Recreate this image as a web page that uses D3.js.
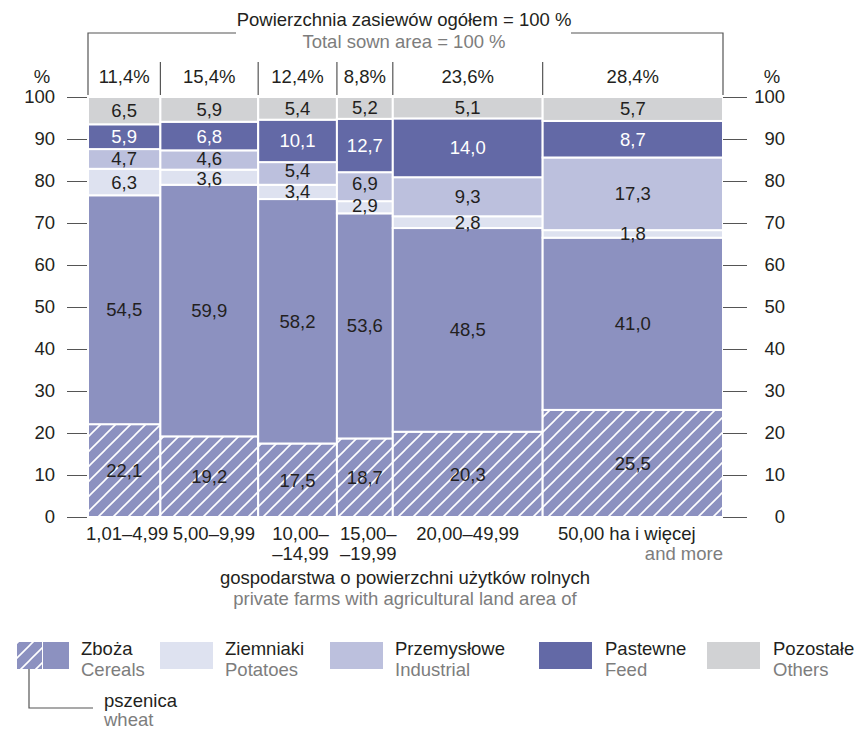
<!DOCTYPE html>
<html><head><meta charset="utf-8">
<script src="https://cdn.jsdelivr.net/npm/d3@7"></script>
<style>
html,body{margin:0;padding:0;background:#fff;}
svg text{font-family:"Liberation Sans",Arial,Helvetica,sans-serif;}
</style></head>
<body>
<svg id="chart" width="859" height="730"></svg>
<script>
// ---- data ----
const categories = [["1,01–4,99"],["5,00–9,99"],["10,00–","–14,99"],["15,00–","–19,99"],["20,00–49,99"],["50,00 ha i więcej"]];
const shares = [11.4, 15.4, 12.4, 8.8, 23.6, 28.4];
const shareLabels = ["11,4%","15,4%","12,4%","8,8%","23,6%","28,4%"];
const wheat = [22.1, 19.2, 17.5, 18.7, 20.3, 25.5];
const cereals = [54.5, 59.9, 58.2, 53.6, 48.5, 41.0];
const potatoes = [6.3, 3.6, 3.4, 2.9, 2.8, 1.8];
const industrial = [4.7, 4.6, 5.4, 6.9, 9.3, 17.3];
const feed = [5.9, 6.8, 10.1, 12.7, 14.0, 8.7];
const others = [6.5, 5.9, 5.4, 5.2, 5.1, 5.7];
const yTicks = [0,10,20,30,40,50,60,70,80,90,100];
const seriesNames = ["wheat","cereals","potatoes","industrial","feed","others"];
const seriesValues = [wheat, cereals, potatoes, industrial, feed, others];
const legendItems = [
  {pl:"Zboża", en:"Cereals", key:"cereals"},
  {pl:"Ziemniaki", en:"Potatoes", key:"potatoes"},
  {pl:"Przemysłowe", en:"Industrial", key:"industrial"},
  {pl:"Pastewne", en:"Feed", key:"feed"},
  {pl:"Pozostałe", en:"Others", key:"others"}
];

const colors = {wheat:"url(#hatch)", cereals:"#8c91c0", potatoes:"#dee2f0", industrial:"#bcc0dd", feed:"#6369a6", others:"#d1d2d4"};
const gray = "#7d7d7d", lineCol = "#555", ink = "#231f20";
const fs = 18.5;

const svg = d3.select("#chart");
const defs = svg.append("defs");
const pat = defs.append("pattern").attr("id","hatch").attr("patternUnits","userSpaceOnUse")
  .attr("width",15).attr("height",15);
pat.append("rect").attr("width",15).attr("height",15).attr("fill","#8c91c0");
pat.append("path").attr("d","M-2,2 L2,-2 M0,15 L15,0 M13,17 L17,13")
  .attr("stroke","#fff").attr("stroke-width",1.6);

const x = d3.scaleLinear().domain([0,100]).range([88,723]);
const y = d3.scaleLinear().domain([0,100]).range([517,97]);

// column layout
let cum = 0;
const cols = shares.map((s,i)=>{ const c={i, x0:cum, x1:cum+s}; cum+=s; return c; });

// segments
const segs = [];
cols.forEach(c=>{
  let base = 0;
  seriesNames.forEach((name,k)=>{
    const v = seriesValues[k][c.i];
    segs.push({col:c, name, v, y0:base, y1:base+v});
    base += v;
  });
});

svg.append("g").selectAll("rect").data(segs).join("rect")
  .attr("x", d=>x(d.col.x0)).attr("width", d=>x(d.col.x1)-x(d.col.x0))
  .attr("y", d=>y(d.y1)).attr("height", d=>y(d.y0)-y(d.y1))
  .attr("fill", d=>colors[d.name]).attr("stroke","#fff").attr("stroke-width",2);

// small label nudges (px) for crowded thin segments
const nudge = {"industrial-1":-1, "potatoes-1":1, "industrial-2":-3, "industrial-3":-3, "potatoes-3":-2};
svg.append("g").selectAll("text").data(segs).join("text")
  .attr("x", d=>(x(d.col.x0)+x(d.col.x1))/2)
  .attr("y", d=>(y(d.y0)+y(d.y1))/2 + (nudge[d.name+"-"+d.col.i]||0))
  .attr("dy","0.35em").attr("text-anchor","middle").attr("font-size",fs)
  .attr("fill", d=>d.name==="feed" ? "#fff" : ink)
  .text(d=>d3.format(".1f")(d.v).replace(".",","));

// axes
const axL = d3.axisLeft(y).tickValues(yTicks).tickSize(20).tickPadding(12);
const gL = svg.append("g").attr("transform","translate(87,0)").call(axL);
const axR = d3.axisRight(y).tickValues(yTicks).tickSize(24).tickPadding(0);
const gR = svg.append("g").attr("transform","translate(723,0)").call(axR);
[gL,gR].forEach(g=>{
  g.select(".domain").remove();
  g.selectAll(".tick line").attr("stroke",lineCol).attr("stroke-width",1);
  g.selectAll(".tick text").attr("font-size",fs).attr("fill",ink)
    .attr("font-family","Liberation Sans, Arial, sans-serif");
});
gR.selectAll(".tick text").attr("text-anchor","end").attr("x",62);
svg.append("text").attr("x",42).attr("y",77).attr("dy","0.35em").attr("text-anchor","middle").attr("font-size",fs).attr("fill",ink).text("%");
svg.append("text").attr("x",772).attr("y",77).attr("dy","0.35em").attr("text-anchor","middle").attr("font-size",fs).attr("fill",ink).text("%");

// top share labels and separators
svg.append("g").selectAll("text").data(cols).join("text")
  .attr("x", d=>(x(d.x0)+x(d.x1))/2).attr("y",77).attr("dy","0.35em")
  .attr("text-anchor","middle").attr("font-size",fs).attr("fill",ink)
  .text(d=>shareLabels[d.i]);
svg.append("g").selectAll("line").data(cols.slice(1)).join("line")
  .attr("x1", d=>x(d.x0)).attr("x2", d=>x(d.x0)).attr("y1",62).attr("y2",95)
  .attr("stroke",lineCol).attr("stroke-width",1.2);

// bracket
svg.append("path").attr("d",`M${x(0)},95 V33 H236 M571,33 H${x(100)} V95`)
  .attr("fill","none").attr("stroke",lineCol).attr("stroke-width",1.2);
svg.append("text").attr("x",404).attr("y",20).attr("dy","0.35em").attr("text-anchor","middle").attr("font-size",fs).attr("fill",ink).text("Powierzchnia zasiewów ogółem = 100 %");
svg.append("text").attr("x",404).attr("y",42).attr("dy","0.35em").attr("text-anchor","middle").attr("font-size",fs).attr("fill",gray).text("Total sown area = 100 %");

// x labels
const labelShift = [3, 4.5, 3, 3.5, 0, -6];
const xl = svg.append("g");
cols.forEach(c=>{
  const cx = (x(c.x0)+x(c.x1))/2 + labelShift[c.i];
  categories[c.i].forEach((line,j)=>{
    xl.append("text").attr("x",cx).attr("y",534+j*20).attr("dy","0.35em")
      .attr("text-anchor","middle").attr("font-size",fs).attr("fill",ink).text(line);
  });
});
xl.append("text").attr("x",x(100)).attr("y",554).attr("dy","0.35em").attr("text-anchor","end").attr("font-size",fs).attr("fill",gray).text("and more");
svg.append("text").attr("x",405).attr("y",578).attr("dy","0.35em").attr("text-anchor","middle").attr("font-size",fs).attr("fill",ink).text("gospodarstwa o powierzchni użytków rolnych");
svg.append("text").attr("x",405).attr("y",599).attr("dy","0.35em").attr("text-anchor","middle").attr("font-size",fs).attr("fill",gray).text("private farms with agricultural land area of");

// legend
const lg = svg.append("g");
const boxX = [43,160,330,539,707];
const textX = [81,225,395,605,773];
legendItems.forEach((it,i)=>{
  lg.append("rect").attr("x",boxX[i]).attr("y",642).attr("width",i===0?26:53).attr("height",27).attr("fill",colors[it.key]);
  lg.append("text").attr("x",textX[i]).attr("y",649).attr("dy","0.35em").attr("font-size",fs).attr("fill",ink).text(it.pl);
  lg.append("text").attr("x",textX[i]).attr("y",670).attr("dy","0.35em").attr("font-size",fs).attr("fill",gray).text(it.en);
});
lg.append("rect").attr("x",17).attr("y",642).attr("width",25).attr("height",27).attr("fill","url(#hatch)");
lg.append("path").attr("d","M29,669 V708 H93").attr("fill","none").attr("stroke",lineCol).attr("stroke-width",1.2);
lg.append("text").attr("x",104).attr("y",701).attr("dy","0.35em").attr("font-size",fs).attr("fill",ink).text("pszenica");
lg.append("text").attr("x",104).attr("y",720).attr("dy","0.35em").attr("font-size",fs).attr("fill",gray).text("wheat");
</script>
</body></html>
